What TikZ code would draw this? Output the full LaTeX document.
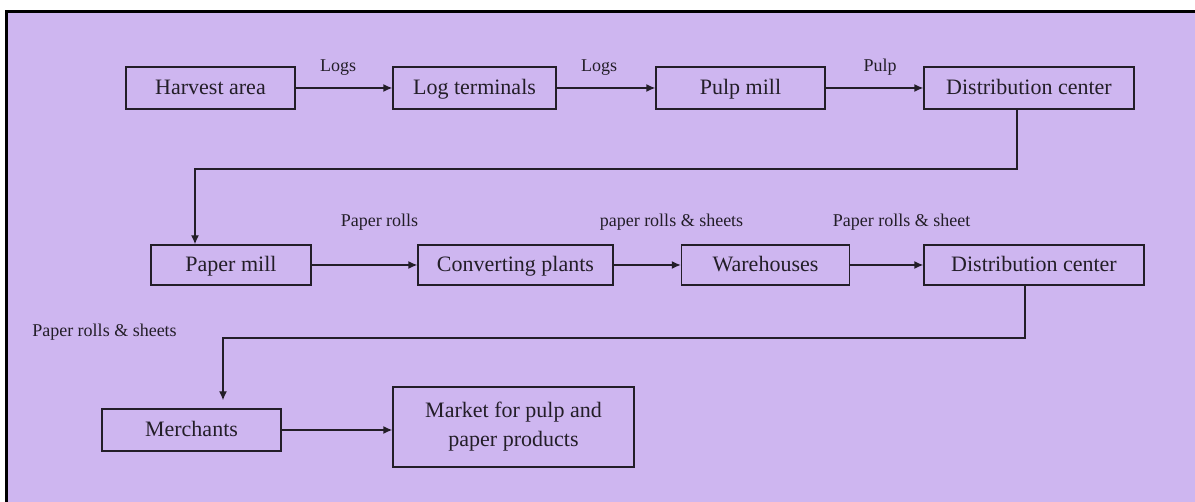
\documentclass[tikz,border=0pt]{standalone}
\usepackage{fontspec}
\setmainfont{Liberation Serif}
\usetikzlibrary{arrows.meta}
\definecolor{bgpurple}{RGB}{206,182,240}
\definecolor{ink}{RGB}{35,30,40}
\tikzset{
  box/.style={draw=ink, line width=1.4pt, minimum height=42pt, inner sep=0pt, font=\fontsize{22}{29}\selectfont, text=ink, align=center},
  one/.style={text height=17pt, text depth=3pt},
  lbl/.style={font=\fontsize{18}{22}\selectfont, text=ink, inner sep=0pt, text height=13pt, text depth=0pt},
  arr/.style={draw=ink, line width=1.4pt, -{Latex[length=9pt,width=8pt]}},
  conn/.style={draw=ink, line width=1.4pt}
}
\begin{document}
\begin{tikzpicture}[x=1pt,y=-1pt]
\useasboundingbox (0,0) rectangle (1195,502);
\fill[white] (0,0) rectangle (1195,502);
\fill[bgpurple] (6,12) rectangle (1200,510);
\draw[black, line width=3pt] (6,512) -- (6,12) -- (1200,12);

% row 1
\node[box, one, minimum width=169pt] (harvest) at (210.5,88) {Harvest area};
\node[box, one, minimum width=163pt] (logterm) at (474.5,88) {Log terminals};
\node[box, one, minimum width=169pt] (pulp) at (740.5,88) {Pulp mill};
\node[box, one, minimum width=210pt] (dcone) at (1029,88) {Distribution center};

% row 2
\node[box, one, minimum width=160pt, minimum height=40pt] (paper) at (231,265) {Paper mill};
\node[box, one, minimum width=195pt, minimum height=40pt] (conv) at (515.5,265) {Converting plants};
\node[box, one, minimum width=168pt, minimum height=40pt] (ware) at (765.5,265) {Warehouses};
\node[box, one, minimum width=220pt, minimum height=40pt] (dctwo) at (1034,265) {Distribution center};

% row 3
\node[box, one, minimum width=179pt, minimum height=42pt] (merch) at (191.5,430) {Merchants};
\node[box, minimum width=241pt, minimum height=80pt] (market) at (513.5,427) {Market for pulp and\\paper products};

% labels
\node[lbl] (l1) at (338,65) {Logs};
\node[lbl] (l2) at (599,65) {Logs};
\node[lbl] (l3) at (880,65) {Pulp};
\node[lbl] (l4) at (379.5,220) {Paper rolls};
\node[lbl] (l5) at (671.5,220) {paper rolls \& sheets};
\node[lbl] (l6) at (901.5,220) {Paper rolls \& sheet};
\node[lbl] (l7) at (104.5,330) {Paper rolls \& sheets};

% connectors
\draw[arr] (harvest.east) -- (logterm.west);
\draw[arr] (logterm.east) -- (pulp.west);
\draw[arr] (pulp.east) -- (dcone.west);

\coordinate (ca) at (1017,169);
\coordinate (cb) at (195,169);
\draw[arr] (dcone.south -| ca) -- (ca) -- (cb) -- (cb |- paper.north);

\draw[arr] (paper.east) -- (conv.west);
\draw[arr] (conv.east) -- (ware.west);
\draw[arr] (ware.east) -- (dctwo.west);

\coordinate (cc) at (1025,338);
\coordinate (cd) at (223,338);
\draw[arr, shorten >=8pt] (dctwo.south -| cc) -- (cc) -- (cd) -- (cd |- merch.north);

\draw[arr] (merch.east) -- (market.west |- merch.east);
\end{tikzpicture}
\end{document}
